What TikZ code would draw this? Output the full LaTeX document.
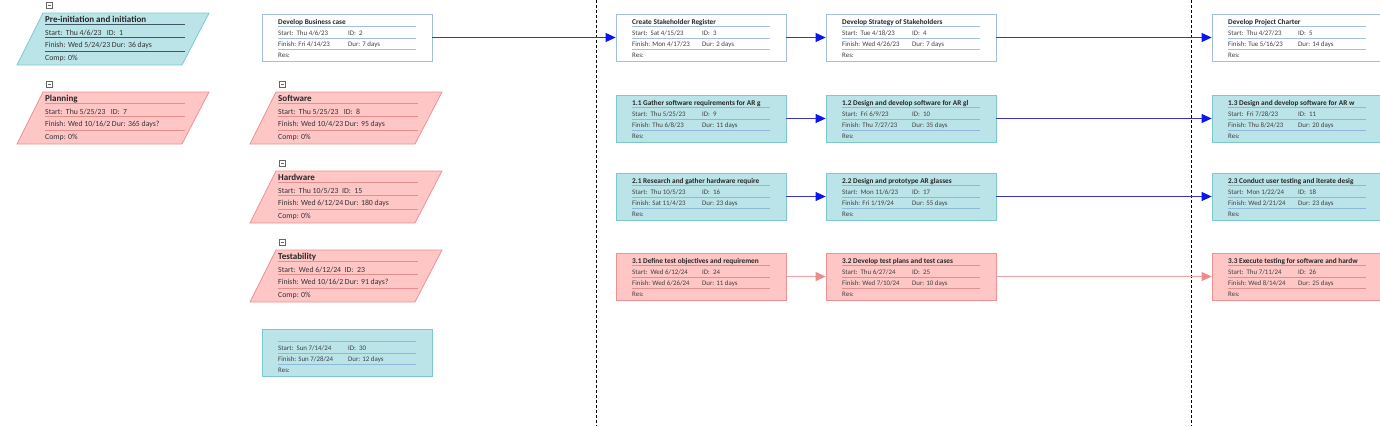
\documentclass[tikz,border=0pt]{standalone}
\usepackage{fontspec}
\setmainfont{Carlito}
\usetikzlibrary{arrows.meta}

\definecolor{cyanfill}{HTML}{BAE4E8}
\definecolor{cyanedge}{HTML}{7DC8CF}
\definecolor{cyansep}{HTML}{8DB8DC}
\definecolor{pinkfill}{HTML}{FFC6C6}
\definecolor{pinkedge}{HTML}{F09090}
\definecolor{pinksep}{HTML}{E88C8C}
\definecolor{whiteedge}{HTML}{A2BDE6}
\definecolor{darksep}{HTML}{3E5866}
\definecolor{flowblue}{HTML}{3A34C4}
\definecolor{headblue}{HTML}{0C14F0}
\definecolor{flowpink}{HTML}{F2A2A2}
\definecolor{headpink}{HTML}{F08A8A}

% task box: name, x, y, style, title, start, id, finish, dur
\newcommand{\taskbox}[9]{%
\node[#4, minimum width=170pt, minimum height=47pt, inner sep=0pt] (#1) at (#2+85,#3+23.5) {};
\draw[#4 sep] (#2+16,#3+12) -- (#2+154,#3+12);
\draw[#4 sep] (#2+16,#3+24) -- (#2+154,#3+24);
\draw[#4 sep] (#2+16,#3+35) -- (#2+154,#3+35);
\node[tasktitle] (#1-title) at (#2+16,#3+10) {#5};
\node[taskrow] (#1-start) at (#2+16,#3+21) {Start:\ \ #6};
\node[taskrow] (#1-id) at (#2+86,#3+21) {ID:\ \ #7};
\node[taskrow] (#1-finish) at (#2+16,#3+32.5) {Finish: #8};
\node[taskrow] (#1-dur) at (#2+86,#3+32.5) {Dur: #9};
\node[taskrow] (#1-res) at (#2+16,#3+43.5) {Res:};
}

% summary box: name, x, y, style, title, start row, finish row
\newcommand{\sumbox}[7]{%
\filldraw[#4] (#2-2,#3) -- (#2+164,#3) -- (#2+137,#3+52) -- (#2-28,#3+52) -- cycle;
\draw[collapse] (#2+1,#3-11) rectangle (#2+7,#3-5);
\draw[collapse] (#2+2.5,#3-8) -- (#2+5.5,#3-8);
\draw[#4 sep] (#2,#3+11) -- (#2+140,#3+11);
\draw[#4 sep] (#2,#3+24) -- (#2+140,#3+24);
\draw[#4 sep] (#2,#3+38) -- (#2+140,#3+38);
\node[sumtitle] (#1-title) at (#2,#3+9) {#5};
\node[sumrow] (#1-start) at (#2,#3+22) {#6};
\node[sumrow] (#1-finish) at (#2,#3+34.5) {#7};
\node[sumrow] (#1-comp) at (#2,#3+47) {Comp: 0\%};
}

\begin{document}
\begin{tikzpicture}[x=1pt,y=-1pt,
  whitetask/.style={draw=whiteedge,fill=white,line width=0.8pt},
  whitetask sep/.style={draw=whiteedge,line width=0.6pt},
  cyantask/.style={draw=cyanedge,fill=cyanfill,line width=0.8pt},
  cyantask sep/.style={draw=cyansep,line width=0.6pt},
  pinktask/.style={draw=pinkedge,fill=pinkfill,line width=0.8pt},
  pinktask sep/.style={draw=pinksep,line width=0.6pt},
  cyansum/.style={draw=cyanedge,fill=cyanfill,line width=0.8pt},
  cyansum sep/.style={draw=darksep,line width=0.6pt},
  pinksum/.style={draw=pinkedge,fill=pinkfill,line width=0.8pt},
  pinksum sep/.style={draw=pinksep,line width=0.6pt},
  collapse/.style={draw=black!60,fill=white,line width=0.5pt},
  tasktitle/.style={anchor=base west,inner sep=0pt,font=\fontsize{7.3}{8}\selectfont\bfseries,text=black!85},
  taskrow/.style={anchor=base west,inner sep=0pt,font=\fontsize{6.9}{8}\selectfont,text=black!75},
  sumtitle/.style={anchor=base west,inner sep=0pt,font=\fontsize{9}{10}\selectfont\bfseries,text=black!85},
  sumrow/.style={anchor=base west,inner sep=0pt,font=\fontsize{7.8}{9}\selectfont,text=black!80},
  flow/.style={draw=flowblue,line width=0.8pt,-{Triangle[length=10pt,width=9pt,color=headblue]}},
  pinkflow/.style={draw=flowpink,line width=0.8pt,-{Triangle[length=10pt,width=9pt,color=headpink]}},
  divider/.style={draw=black,line width=0.7pt,dash pattern=on 3pt off 2pt}]
\useasboundingbox (0,0) rectangle (1380,426);
\fill[white] (0,0) rectangle (1380,426);
% Drawing dividers
\draw[divider] (596,0) -- (596,426);
\draw[divider] (1191,0) -- (1191,426);
% Summary tasks
\sumbox{pre}{45}{13}{cyansum}{Pre-initiation and initiation}{Start:\ \ Thu 4/6/23\ \ \ ID:\ \ 1}{Finish: Wed 5/24/23\ Dur: 36 days}
\sumbox{plan}{45}{92}{pinksum}{Planning}{Start:\ \ Thu 5/25/23\ \ \ ID:\ \ 7}{Finish: Wed 10/16/2\ Dur: 365 days?}
\sumbox{soft}{278}{92}{pinksum}{Software}{Start:\ \ Thu 5/25/23\ \ \ ID:\ \ 8}{Finish: Wed 10/4/23\ Dur: 95 days}
\sumbox{hard}{278}{171}{pinksum}{Hardware}{Start:\ \ Thu 10/5/23\ \ ID:\ \ 15}{Finish: Wed 6/12/24\ Dur: 180 days}
\sumbox{test}{278}{250}{pinksum}{Testability}{Start:\ \ Wed 6/12/24\ \ ID:\ \ 23}{Finish: Wed 10/16/2\ Dur: 91 days?}
% Tasks, row 1
\taskbox{dbc}{262}{14}{whitetask}{Develop Business case}{Thu 4/6/23}{2}{Fri 4/14/23}{7 days}
\taskbox{csr}{616}{14}{whitetask}{Create Stakeholder Register}{Sat 4/15/23}{3}{Mon 4/17/23}{2 days}
\taskbox{dss}{826}{14}{whitetask}{Develop Strategy of Stakeholders}{Tue 4/18/23}{4}{Wed 4/26/23}{7 days}
\taskbox{dpc}{1212}{14}{whitetask}{Develop Project Charter}{Thu 4/27/23}{5}{Tue 5/16/23}{14 days}
% Tasks, software
\taskbox{swa}{616}{95}{cyantask}{1.1 Gather software requirements for AR g}{Thu 5/25/23}{9}{Thu 6/8/23}{11 days}
\taskbox{swb}{826}{95}{cyantask}{1.2 Design and develop software for AR gl}{Fri 6/9/23}{10}{Thu 7/27/23}{35 days}
\taskbox{swc}{1212}{95}{cyantask}{1.3 Design and develop software for AR w}{Fri 7/28/23}{11}{Thu 8/24/23}{20 days}
% Tasks, hardware
\taskbox{hwa}{616}{173}{cyantask}{2.1 Research and gather hardware require}{Thu 10/5/23}{16}{Sat 11/4/23}{23 days}
\taskbox{hwb}{826}{173}{cyantask}{2.2 Design and prototype AR glasses}{Mon 11/6/23}{17}{Fri 1/19/24}{55 days}
\taskbox{hwc}{1212}{173}{cyantask}{2.3 Conduct user testing and iterate desig}{Mon 1/22/24}{18}{Wed 2/21/24}{23 days}
% Tasks, testing
\taskbox{tsa}{616}{253}{pinktask}{3.1 Define test objectives and requiremen}{Wed 6/12/24}{24}{Wed 6/26/24}{11 days}
\taskbox{tsb}{826}{253}{pinktask}{3.2 Develop test plans and test cases}{Thu 6/27/24}{25}{Wed 7/10/24}{10 days}
\taskbox{tsc}{1212}{253}{pinktask}{3.3 Execute testing for software and hardw}{Thu 7/11/24}{26}{Wed 8/14/24}{25 days}
% Task without name
\taskbox{last}{262}{329}{cyantask}{}{Sun 7/14/24}{30}{Sun 7/28/24}{12 days}
% Links
\draw[flow] (dbc.east) -- (csr.west);
\draw[flow] (csr.east) -- (dss.west);
\draw[flow] (dss.east) -- (dpc.west);
\draw[flow] (swa.east) -- (swb.west);
\draw[flow] (swb.east) -- (swc.west);
\draw[flow] (hwa.east) -- (hwb.west);
\draw[flow] (hwb.east) -- (hwc.west);
\draw[pinkflow] (tsa.east) -- (tsb.west);
\draw[pinkflow] (tsb.east) -- (tsc.west);
\end{tikzpicture}
\end{document}
